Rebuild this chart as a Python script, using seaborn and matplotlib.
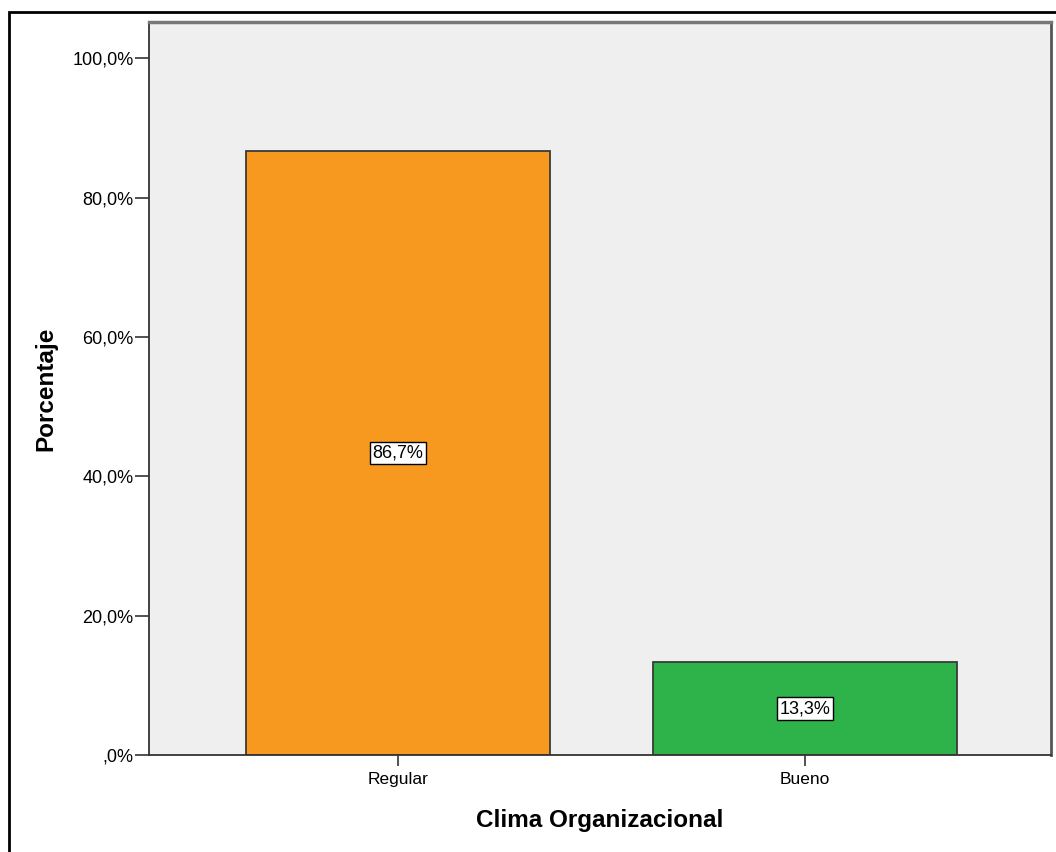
import pandas as pd
import matplotlib.pyplot as plt
import matplotlib.patches as mpatches
import seaborn as sns

categories = ["Regular", "Bueno"]
percentages = [86.7, 13.3]
bar_colors = ["#F7991E", "#2EB34A"]
y_ticks = [0, 20, 40, 60, 80, 100]
y_tick_labels = [",0%", "20,0%", "40,0%", "60,0%", "80,0%", "100,0%"]

sns.set_style("white")
plt.rcParams['font.family'] = ['Liberation Sans', 'DejaVu Sans']
plt.rcParams['text.color'] = 'black'
plt.rcParams['axes.labelcolor'] = 'black'
plt.rcParams['xtick.color'] = 'black'
plt.rcParams['ytick.color'] = 'black'

df = pd.DataFrame({"clima": categories, "pct": percentages})

fig = plt.figure(figsize=(10.56, 8.52), dpi=100)
ax = fig.add_axes([149 / 1056, 97 / 852, 902 / 1056, 733 / 852])
ax.set_facecolor("#EFEFEF")

sns.barplot(data=df, x="clima", y="pct", hue="clima", palette=bar_colors,
            order=categories, width=0.747, edgecolor="#3A3A3A", linewidth=1.3,
            saturation=1, legend=False, ax=ax)

# value labels in small white boxes, centred in each bar
for i, v in enumerate(percentages):
    ax.text(i, v / 2, f"{v:.1f}%".replace(".", ","), ha="center", va="center",
            fontsize=13, color="black",
            bbox=dict(boxstyle="square,pad=0.15", fc="white", ec="black", lw=1))

ax.set_xlim(-0.612, 1.605)
ax.set_ylim(0, 105.2)
ax.set_yticks(y_ticks)
ax.set_yticklabels(y_tick_labels, fontsize=13)
ax.tick_params(axis="y", left=True, length=10, width=1.2, color="#333333", pad=1)
ax.tick_params(axis="x", bottom=True, length=8, width=1.2, color="#333333", labelsize=12.5, pad=4)

for side in ["left", "bottom", "top", "right"]:
    ax.spines[side].set_visible(True)
    ax.spines[side].set_color("#333333")
    ax.spines[side].set_linewidth(1.3)
ax.spines["top"].set_color("#777777")
ax.spines["right"].set_color("#555555")
ax.spines["top"].set_linewidth(2.5)
ax.spines["right"].set_linewidth(2)

ax.set_xlabel("Clima Organizacional", fontsize=17.5, fontweight="bold", labelpad=16)
ax.set_ylabel("Porcentaje", fontsize=17.5, fontweight="bold", labelpad=11)

# outer frame, cut off at right and bottom like the original export
frame = mpatches.Rectangle((8.5 / 1056, -0.1), 1.2, 0.1 + (852 - 11.5) / 852,
                           transform=fig.transFigure, fill=False,
                           edgecolor="black", linewidth=2, clip_on=False)
fig.patches.append(frame)

fig.savefig("out.png", dpi=100)
